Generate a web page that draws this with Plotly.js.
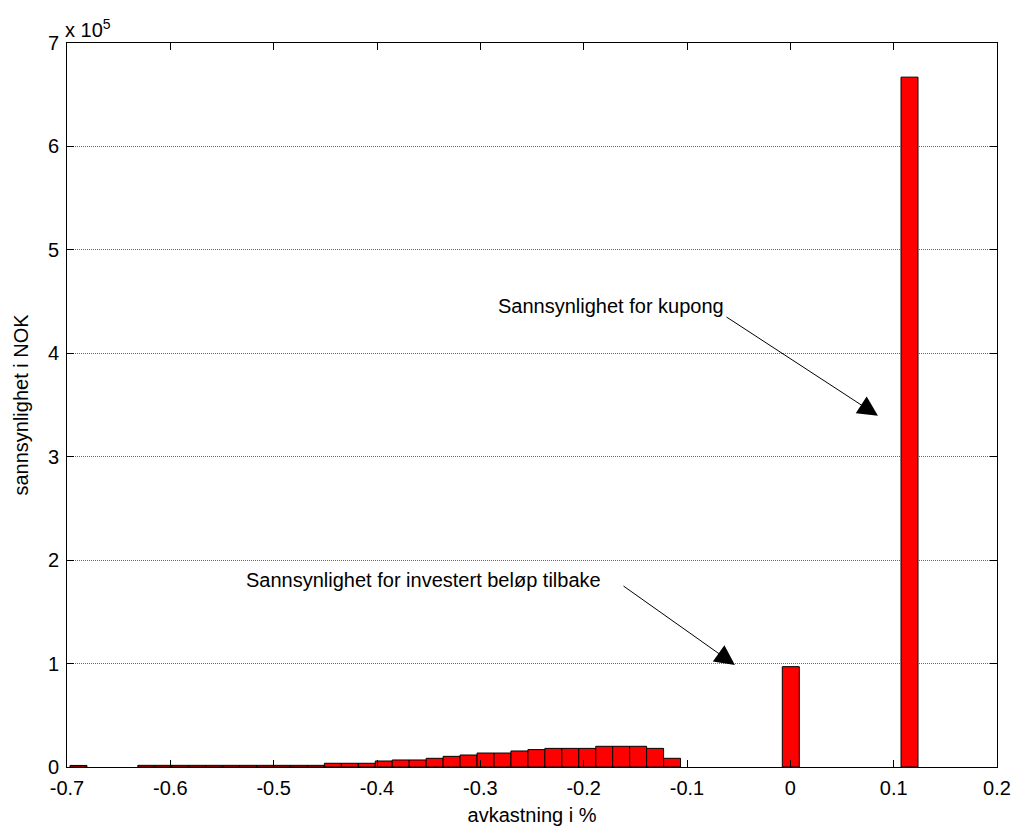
<!DOCTYPE html>
<html>
<head>
<meta charset="utf-8">
<script src="https://cdn.plot.ly/plotly-3.0.1.min.js"></script>
<style>html,body{margin:0;padding:0;background:#fff;}#chart{width:1019px;height:829px;}</style>
</head>
<body>
<div id="chart"></div>
<script>
// Histogram bin centres (avkastning i %) and counts (sannsynlighet i NOK)
var binCenters = [-0.688900, -0.623248, -0.606835, -0.590422, -0.574009, -0.557596, -0.541183,
  -0.524770, -0.508357, -0.491944, -0.475531, -0.459118, -0.442705, -0.426292, -0.409879,
  -0.393466, -0.377053, -0.360640, -0.344227, -0.327814, -0.311401, -0.294988, -0.278575,
  -0.262162, -0.245749, -0.229336, -0.212923, -0.196510, -0.180097, -0.163684, -0.147271,
  -0.130858, -0.114445, 0.000446, 0.115337];
var binCounts = [1500, 1600, 1600, 1600, 1600, 1600, 1600,
  1600, 1600, 1600, 1600, 1600, 3600, 3600, 3600,
  5800, 6800, 6800, 8400, 10300, 11600, 13500, 13500,
  15500, 16800, 18000, 18000, 18000, 20000, 20000, 20000,
  18000, 8400, 97000, 667000];
var binWidth = 0.016413;

var xTickVals = [-0.7, -0.6, -0.5, -0.4, -0.3, -0.2, -0.1, 0, 0.1, 0.2];
var xTickText = ['-0.7', '-0.6', '-0.5', '-0.4', '-0.3', '-0.2', '-0.1', '0', '0.1', '0.2'];
var yTickVals = [0, 100000, 200000, 300000, 400000, 500000, 600000, 700000];
var yTickText = ['0', '1', '2', '3', '4', '5', '6', '7'];

var font = 'Liberation Sans, Arial, sans-serif';
var fs = 20;

var trace = {
  type: 'bar',
  x: binCenters,
  y: binCounts,
  width: binCenters.map(function(){ return binWidth; }),
  marker: {color: '#ff0000', line: {color: '#000000', width: 1}},
  hoverinfo: 'x+y'
};

var layout = {
  width: 1019, height: 829,
  margin: {l: 67, r: 22, t: 43, b: 62},
  paper_bgcolor: '#ffffff', plot_bgcolor: '#ffffff',
  showlegend: false,
  bargap: 0,
  font: {family: font, size: fs, color: '#000'},
  xaxis: {
    range: [-0.7, 0.2],
    tickvals: xTickVals, ticktext: xTickText,
    ticks: 'inside', ticklen: 7, tickcolor: '#000', tickwidth: 1,
    showline: true, linecolor: '#000', linewidth: 1, mirror: 'ticks',
    showgrid: false, zeroline: false,
    ticklabelstandoff: 3,
    tickfont: {family: font, size: fs, color: '#000'},
    title: {text: 'avkastning i %', font: {family: font, size: fs, color: '#000'}, standoff: 9}
  },
  yaxis: {
    range: [0, 700000],
    tickvals: yTickVals, ticktext: yTickText,
    ticks: 'inside', ticklen: 7, tickcolor: '#000', tickwidth: 1,
    showline: true, linecolor: '#000', linewidth: 1, mirror: 'ticks',
    showgrid: true, gridcolor: '#666', griddash: '1px,1px', gridwidth: 1,
    zeroline: false,
    ticklabelstandoff: 3,
    tickfont: {family: font, size: fs, color: '#000'},
    title: {text: 'sannsynlighet i NOK', font: {family: font, size: fs, color: '#000'}, standoff: 13}
  },
  annotations: [
    {xref: 'paper', yref: 'paper', x: 0, y: 1, xanchor: 'left', yanchor: 'bottom', yshift: 0, xshift: -4,
     text: 'x 10<sup>5</sup>', showarrow: false, font: {family: font, size: fs, color: '#000'}},
    {xref: 'x', yref: 'y', x: -0.1735, y: 445800, text: 'Sannsynlighet for kupong', showarrow: false,
     font: {family: font, size: fs, color: '#000'}},
    {xref: 'x', yref: 'y', axref: 'x', ayref: 'y', x: 0.0848, y: 339500, ax: -0.0632, ay: 436000,
     text: '', showarrow: true, arrowhead: 2, arrowsize: 4, arrowwidth: 1, arrowcolor: '#000', standoff: 0},
    {xref: 'x', yref: 'y', x: -0.355, y: 181000, text: 'Sannsynlighet for investert beløp tilbake', showarrow: false,
     font: {family: font, size: fs, color: '#000'}},
    {xref: 'x', yref: 'y', axref: 'x', ayref: 'y', x: -0.0536, y: 98600, ax: -0.1629, ay: 176000,
     text: '', showarrow: true, arrowhead: 2, arrowsize: 4, arrowwidth: 1, arrowcolor: '#000', standoff: 0}
  ]
};

Plotly.newPlot('chart', [trace], layout, {displayModeBar: false, staticPlot: true});
</script>
</body>
</html>
